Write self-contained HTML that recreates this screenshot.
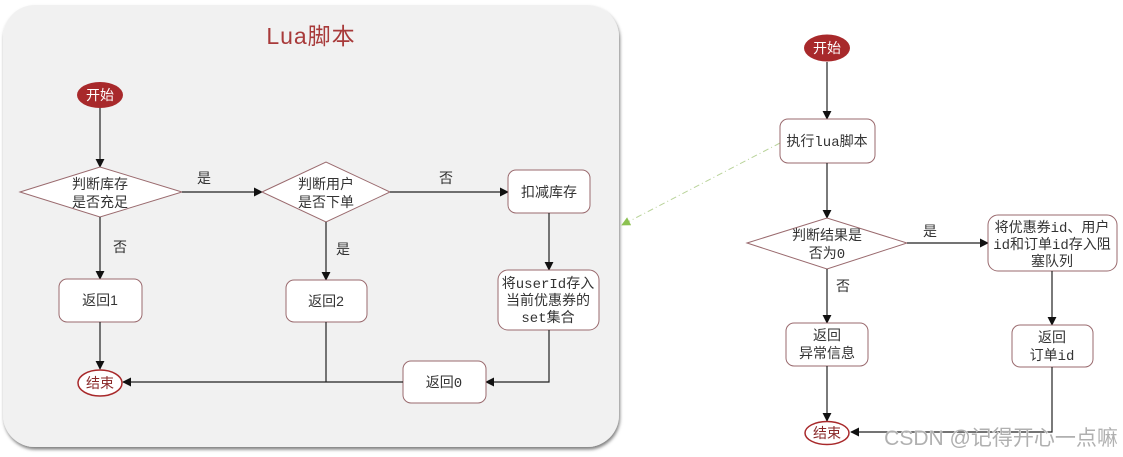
<!DOCTYPE html>
<html><head><meta charset="utf-8"><style>
html,body{margin:0;padding:0;background:#fff;width:1123px;height:457px;overflow:hidden}
svg{display:block}
text{font-family:"Liberation Sans","Noto Sans CJK SC",sans-serif;font-size:14px;fill:#333;text-anchor:middle}
.m{font-family:"Liberation Mono","Noto Sans CJK SC",monospace}
.n{fill:#fff;stroke:#9a6a6e;stroke-width:1}
.l{stroke:#222;stroke-width:1.2;fill:none}
</style></head><body>
<svg width="1123" height="457" viewBox="0 0 1123 457" xmlns="http://www.w3.org/2000/svg">
<defs>
<marker id="a" viewBox="0 0 10 10" refX="9" refY="5" markerWidth="9" markerHeight="9" markerUnits="userSpaceOnUse" orient="auto"><path d="M0,0 L10,5 L0,10 z" fill="#111"/></marker>
<marker id="g" viewBox="0 0 10 10" refX="9" refY="5" markerWidth="9" markerHeight="9" markerUnits="userSpaceOnUse" orient="auto"><path d="M0,0 L10,5 L0,10 z" fill="#8cc151"/></marker>
<filter id="sh" x="-5%" y="-5%" width="110%" height="115%"><feDropShadow dx="1" dy="2.5" stdDeviation="1.5" flood-color="#000" flood-opacity="0.5"/></filter>
</defs>
<rect x="3" y="5" width="616" height="442" rx="32" ry="32" fill="#f1f1f1" filter="url(#sh)"/>
<text x="311" y="44" style="font-size:23px;fill:#a83a3a;letter-spacing:1px">Lua脚本</text>

<!-- left diagram -->
<ellipse cx="100" cy="95" rx="23" ry="13" fill="#a8292b"/>
<text x="100" y="100" style="fill:#fff">开始</text>
<line class="l" x1="100" y1="108" x2="100" y2="167" marker-end="url(#a)"/>
<polygon class="n" points="20,192 100,167 182,192 100,217"/>
<text x="100" y="189">判断库存</text><text x="100" y="207">是否充足</text>
<line class="l" x1="182" y1="192" x2="262" y2="192" marker-end="url(#a)"/>
<text x="204" y="183">是</text>
<polygon class="n" points="262,192 326,162 390,192 326,222"/>
<text x="326" y="189">判断用户</text><text x="326" y="207">是否下单</text>
<line class="l" x1="390" y1="192" x2="508" y2="192" marker-end="url(#a)"/>
<text x="446" y="183">否</text>
<rect class="n" x="508" y="170" width="82" height="43" rx="8"/>
<text x="549" y="197">扣减库存</text>
<line class="l" x1="549" y1="213" x2="549" y2="270" marker-end="url(#a)"/>
<rect class="n" x="498" y="270" width="101" height="60" rx="10"/>
<text x="548" y="288" class="m">将userId存入</text><text x="548" y="305">当前优惠券的</text><text x="548" y="322" class="m">set集合</text>
<polyline class="l" points="549,330 549,382 486,382" marker-end="url(#a)"/>
<rect class="n" x="403" y="361" width="83" height="42" rx="8"/>
<text x="444" y="387" class="m">返回0</text>
<line class="l" x1="403" y1="382" x2="123" y2="382" marker-end="url(#a)"/>
<line class="l" x1="100" y1="217" x2="100" y2="279" marker-end="url(#a)"/>
<text x="120" y="252">否</text>
<rect class="n" x="59" y="279" width="83" height="43" rx="8"/>
<text x="100" y="305">返回1</text>
<line class="l" x1="100" y1="322" x2="100" y2="369" marker-end="url(#a)"/>
<line class="l" x1="326" y1="222" x2="326" y2="280" marker-end="url(#a)"/>
<text x="343" y="254">是</text>
<rect class="n" x="286" y="280" width="81" height="42" rx="8"/>
<text x="326" y="306">返回2</text>
<line class="l" x1="326" y1="322" x2="326" y2="382"/>
<ellipse cx="100" cy="383" rx="22" ry="13" fill="#fff" stroke="#a8292b" stroke-width="1.5"/>
<text x="100" y="388" style="fill:#8a2a2a">结束</text>

<!-- green dashed -->
<line x1="780" y1="143" x2="622" y2="225" stroke="#b9d39a" stroke-width="1" stroke-dasharray="6,3,1,3" marker-end="url(#g)"/>

<!-- right diagram -->
<ellipse cx="827" cy="48" rx="23" ry="13.5" fill="#a8292b"/>
<text x="827" y="53" style="fill:#fff">开始</text>
<line class="l" x1="827" y1="62" x2="827" y2="119" marker-end="url(#a)"/>
<rect class="n" x="780" y="119" width="95" height="44" rx="8"/>
<text x="827" y="146" class="m">执行lua脚本</text>
<line class="l" x1="827" y1="163" x2="827" y2="218" marker-end="url(#a)"/>
<polygon class="n" points="747,243 827,218 907,243 827,269"/>
<text x="827" y="240">判断结果是</text><text x="827" y="258" class="m">否为0</text>
<line class="l" x1="907" y1="243" x2="988" y2="243" marker-end="url(#a)"/>
<text x="930" y="236">是</text>
<rect class="n" x="988" y="215" width="129" height="56" rx="10"/>
<text x="1052" y="232" class="m">将优惠券id、用户</text><text x="1052" y="249" class="m">id和订单id存入阻</text><text x="1052" y="266">塞队列</text>
<line class="l" x1="1052" y1="271" x2="1052" y2="325" marker-end="url(#a)"/>
<rect class="n" x="1012" y="325" width="81" height="42" rx="8"/>
<text x="1052" y="342">返回</text><text x="1052" y="360" class="m">订单id</text>
<polyline class="l" points="1052,367 1052,432 851,432" marker-end="url(#a)"/>
<line class="l" x1="827" y1="269" x2="827" y2="323" marker-end="url(#a)"/>
<text x="843" y="291">否</text>
<rect class="n" x="786" y="323" width="82" height="43" rx="8"/>
<text x="827" y="340">返回</text><text x="827" y="358">异常信息</text>
<line class="l" x1="827" y1="366" x2="827" y2="421" marker-end="url(#a)"/>
<ellipse cx="827" cy="433" rx="22" ry="11.5" fill="#fff" stroke="#a8292b" stroke-width="1.5"/>
<text x="827" y="438" style="fill:#8a2a2a">结束</text>

<text x="1001" y="445" style="font-size:21px;fill:#b0b0b0;stroke:#fff;stroke-width:0.6;paint-order:stroke">CSDN @记得开心一点嘛</text>
</svg>
</body></html>
